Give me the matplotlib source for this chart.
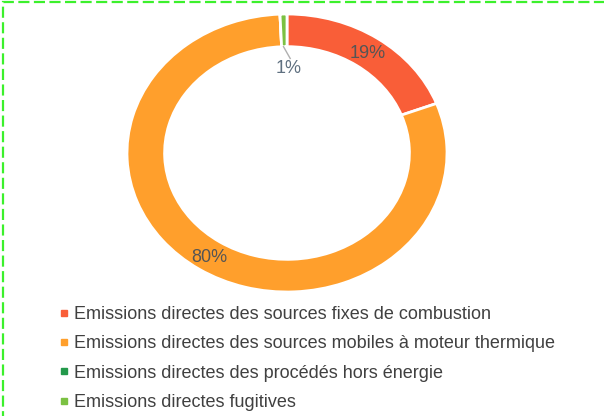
import numpy as np
import matplotlib.pyplot as plt
from matplotlib.lines import Line2D
from matplotlib.patches import Rectangle

plt.rcParams['font.family'] = ['Liberation Sans', 'DejaVu Sans']

labels = ['Emissions directes des sources fixes de combustion',
          'Emissions directes des sources mobiles à moteur thermique',
          'Emissions directes des procédés hors énergie',
          'Emissions directes fugitives']
shares = [19.2, 80.1, 0.0, 0.7]
pct_text = ['19%', '80%', '', '1%']
colors = ['#f95e38', '#ff9f2c', '#23994b', '#7bc142']

W, H = 604, 416
fig = plt.figure(figsize=(W / 100, H / 100), dpi=100)

# donut area in pixels (slightly stretched horizontally as in the source)
left, right, top, bottom = 127, 447, 14, 292
ax = fig.add_axes([left / W, 1 - bottom / H, (right - left) / W, (bottom - top) / H])
wedges, _ = ax.pie(shares, colors=colors, startangle=90, counterclock=False,
                   radius=1, wedgeprops=dict(width=0.235, edgecolor='white', linewidth=2))
ax.set_aspect('auto')
ax.set_xlim(-1, 1)
ax.set_ylim(-1, 1)
ax.axis('off')

# percentage labels
start = 90.0
total = sum(shares)
for s, t in zip(shares, pct_text):
    span = 360.0 * s / total
    mid = np.deg2rad(start - span / 2)
    start -= span
    if not t:
        continue
    if s >= 5:
        ax.text(0.885 * np.cos(mid), 0.885 * np.sin(mid) - 0.01, t, ha='center', va='center',
                fontsize=13, color='#555555')
    else:
        ax.plot([0.765 * np.cos(mid) - 0.005, 0.02], [0.765 * np.sin(mid), 0.68],
                color='#b0b0b0', lw=1)
        ax.text(0.008, 0.61, t, ha='center', va='center', fontsize=13, color='#5f7080')

handles = [Line2D([], [], marker='s', linestyle='none', markersize=5,
                  markerfacecolor=c, markeredgecolor=c) for c in colors]
fig.legend(handles, labels, loc='upper left', bbox_to_anchor=(60 / W, 1 - 306 / H),
           frameon=False, fontsize=13, labelcolor='#404040', handlelength=0.4,
           handletextpad=0.35, labelspacing=0.68, borderaxespad=0, borderpad=0)

fig.patches.append(Rectangle((3 / W, -0.5), 2, 1.5 - 2 / H, transform=fig.transFigure,
                             fill=False, edgecolor='#3cf02c', linewidth=1.6,
                             linestyle=(0, (5, 2))))

fig.savefig('out.png', dpi=100)
